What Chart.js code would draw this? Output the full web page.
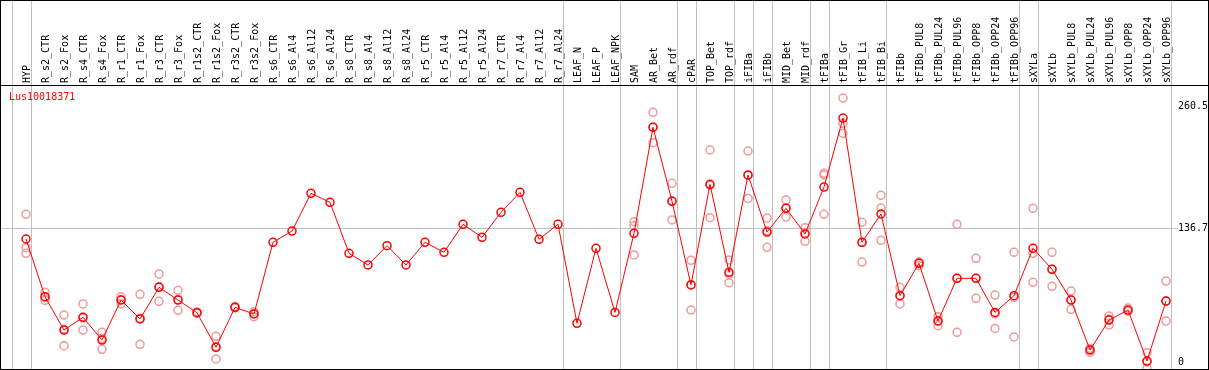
<!DOCTYPE html>
<html><head><meta charset="utf-8">
<script src="https://cdn.jsdelivr.net/npm/chart.js@4/dist/chart.umd.min.js"></script>
<style>html,body{margin:0;padding:0;background:#fff;}#wrap{width:1209px;height:370px;}</style>
</head><body><div id="wrap"><canvas id="c" width="1209" height="370"></canvas></div>
<script>
const categories = ['HYP','R_s2_CTR','R_s2_Fox','R_s4_CTR','R_s4_Fox','R_r1_CTR','R_r1_Fox','R_r3_CTR','R_r3_Fox','R_r1s2_CTR','R_r1s2_Fox','R_r3s2_CTR','R_r3s2_Fox','R_s6_CTR','R_s6_Al4','R_s6_Al12','R_s6_Al24','R_s8_CTR','R_s8_Al4','R_s8_Al12','R_s8_Al24','R_r5_CTR','R_r5_Al4','R_r5_Al12','R_r5_Al24','R_r7_CTR','R_r7_Al4','R_r7_Al12','R_r7_Al24','LEAF_N','LEAF_P','LEAF_NPK','SAM','AR_Bet','AR_rdf','cPAR','TOP_Bet','TOP_rdf','iFIBa','iFIBb','MID_Bet','MID_rdf','tFIBa','tFIB_Gr','tFIB_Li','tFIB_Bi','tFIBb','tFIBb_PUL8','tFIBb_PUL24','tFIBb_PUL96','tFIBb_OPP8','tFIBb_OPP24','tFIBb_OPP96','sXYLa','sXYLb','sXYLb_PUL8','sXYLb_PUL24','sXYLb_PUL96','sXYLb_OPP8','sXYLb_OPP24','sXYLb_OPP96'];
const meanValues = [125.5,66.6,32.6,45.6,22.4,63.2,43.9,76.2,63.2,50.3,15.0,55.8,49.0,122.1,133.6,172.1,162.9,110.9,99.0,118.7,99.0,122.1,111.9,140.5,127.2,152.7,173.1,125.2,140.5,39.5,116.0,50.6,131.3,239.4,163.9,78.6,181.3,91.5,190.8,132.6,156.8,130.6,178.5,248.9,122.1,151.0,67.7,100.7,41.8,85.4,85.4,50.6,67.7,116.0,94.6,63.2,12.2,42.8,53.0,1.0,62.2];
const rep1 = [150.7,71.1,47.9,59.2,30.3,66.6,69.0,89.8,73.1,51.0,26.2,56.5,51.3,null,null,null,null,null,null,null,null,null,null,null,null,null,null,null,null,null,null,null,143.1,254.7,182.3,103.7,216.3,104.1,215.2,146.9,165.3,137.0,192.5,269.3,142.5,170.0,76.2,98.3,46.2,140.5,105.8,68.3,111.9,156.8,111.9,72.4,14.0,46.9,55.0,9.5,82.6];
const rep2 = [116.6,62.9,16.6,32.6,12.9,59.2,18.0,61.9,52.7,50.0,3.1,55.0,46.2,null,null,null,null,null,null,null,null,null,null,null,null,null,null,null,null,null,null,null,139.0,223.7,144.9,53.0,147.2,80.9,166.9,117.0,147.9,123.1,190.8,243.5,102.0,157.1,59.2,102.0,37.0,30.3,65.0,34.3,25.5,110.9,77.2,53.7,9.9,37.7,52.0,-6.5,41.8];
const rep3 = [110.9,66.0,33.3,45.0,24.0,63.8,44.7,76.9,63.8,50.0,15.7,56.0,49.5,null,null,null,null,null,null,null,null,null,null,null,null,null,null,null,null,null,null,null,109.2,239.8,164.5,79.1,180.4,89.5,190.3,133.9,157.2,131.7,150.7,233.3,121.8,124.1,67.7,101.8,42.2,85.4,85.4,49.2,65.7,81.3,94.7,63.5,12.7,43.8,52.0,0.0,62.2];
const yTickValues = [0, 136.7, 260.5];
const separatorAfter = [-1, 0, 28, 31, 34, 35, 37, 38, 39, 41, 42, 45, 52, 53, 60];
const chartTitle = 'Lus10018371';

const FONT = {family: "'DejaVu Sans Mono', monospace", size: 10};
const toPts = arr => arr.map((v, i) => v === null ? null : {x: i, y: v}).filter(p => p !== null);
const repStyle = {type: 'line', showLine: false, pointRadius: 4, pointBorderWidth: 1.5,
  pointBorderColor: '#f09a9a', pointBackgroundColor: 'rgba(0,0,0,0)', order: 2};

const framePlugin = {
  id: 'frame',
  beforeDraw(chart) {
    const ctx = chart.ctx, xs = chart.scales.x;
    ctx.save();
    ctx.fillStyle = '#fff';
    ctx.fillRect(0, 0, chart.width, chart.height);
    ctx.strokeStyle = '#c0c0c0';
    ctx.lineWidth = 1;
    separatorAfter.forEach(i => {
      const px = Math.round(xs.getPixelForValue(i + 0.25)) + 0.5;
      ctx.beginPath(); ctx.moveTo(px, 0); ctx.lineTo(px, 369); ctx.stroke();
    });
    ctx.restore();
  },
  afterDraw(chart) {
    const ctx = chart.ctx;
    ctx.save();
    ctx.strokeStyle = '#000';
    ctx.lineWidth = 1;
    ctx.strokeRect(0.5, 0.5, 1208, 369);
    ctx.beginPath(); ctx.moveTo(0, 85.5); ctx.lineTo(1209, 85.5); ctx.stroke();
    ctx.fillStyle = '#ff0000';
    ctx.font = "10px 'DejaVu Sans Mono', monospace";
    ctx.textBaseline = 'middle';
    ctx.textAlign = 'left';
    ctx.fillText(chartTitle, 9, 97);
    ctx.restore();
  }
};

new Chart(document.getElementById('c'), {
  type: 'line',
  data: {
    datasets: [
      {label: 'mean', data: toPts(meanValues), borderColor: '#ff0000', borderWidth: 1, tension: 0,
       pointRadius: 4, pointBorderWidth: 1.5, pointBorderColor: '#ff0000', pointBackgroundColor: 'rgba(0,0,0,0)', order: 1},
      Object.assign({label: 'r1', data: toPts(rep1)}, repStyle),
      Object.assign({label: 'r2', data: toPts(rep2)}, repStyle),
      Object.assign({label: 'r3', data: toPts(rep3)}, repStyle)
    ]
  },
  options: {
    responsive: false, animation: false, devicePixelRatio: 1,
    layout: {autoPadding: false, padding: {left: 1, right: 1, top: 0, bottom: 1}},
    plugins: {legend: {display: false}, tooltip: {enabled: false}},
    scales: {
      x: {type: 'linear', position: 'top', min: -25/19, max: 60 + 12/19,
        afterBuildTicks: s => { s.ticks = categories.map((_, i) => ({value: i})); },
        afterFit: s => { s.height = 85; s.paddingLeft = 0; s.paddingRight = 0; },
        ticks: {autoSkip: false, minRotation: 90, maxRotation: 90, padding: 2, labelOffset: 13, color: '#000', font: FONT,
          callback: v => categories[v]},
        grid: {display: false, drawTicks: false}, border: {display: false}},
      y: {type: 'linear', position: 'right', min: -7.14, max: 282.6,
        afterBuildTicks: s => { s.ticks = yTickValues.map(v => ({value: v})); },
        afterFit: s => { s.width = 30; s.paddingTop = 0; s.paddingBottom = 0; },
        ticks: {padding: 0, color: '#000', font: FONT, callback: v => v === 0 ? '0' : v.toFixed(1)},
        grid: {drawTicks: false, lineWidth: 1,
          color: c => (c.tick && c.tick.value === 136.7) ? '#c0c0c0' : 'rgba(0,0,0,0)'},
        border: {display: false}}
    }
  },
  plugins: [framePlugin]
});
</script></body></html>
